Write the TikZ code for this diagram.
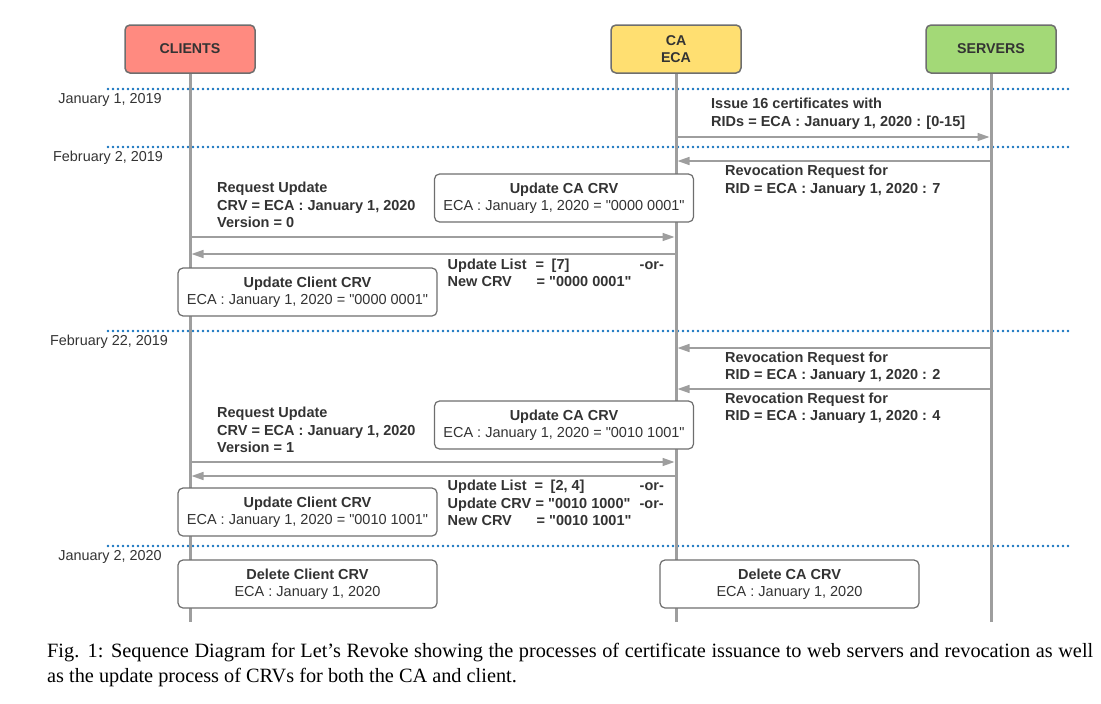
\documentclass[tikz,border=0pt]{standalone}
\usepackage{fontspec}
\setmainfont{Liberation Serif}
\newfontfamily\diagfont{Liberation Sans}
\usetikzlibrary{arrows.meta}

\definecolor{clientred}{RGB}{255,138,128}
\definecolor{cayellow}{RGB}{255,223,113}
\definecolor{servergreen}{RGB}{163,217,119}
\definecolor{txtgray}{RGB}{51,51,51}
\definecolor{boxgray}{RGB}{110,110,110}
\definecolor{linegray}{RGB}{158,158,158}
\definecolor{dotblue}{RGB}{20,115,190}
% put a piece of a line at a fixed offset
\newcommand{\colat}[2]{\makebox[0pt][l]{\hspace*{#1pt}#2}}

\begin{document}
\begin{tikzpicture}[
  x=1pt,y=-1pt,
  font=\diagfont\fontsize{14.5}{17.5}\selectfont,
  >={Triangle[length=12pt,width=8pt]},
  head/.style={draw=boxgray,rounded corners=5pt,line width=1.5pt,minimum width=130pt,minimum height=48pt,align=center,text=txtgray,font=\diagfont\bfseries\fontsize{14.2}{17}\selectfont},
  life/.style={draw=linegray,line width=3pt},
  era/.style={dotblue,line width=2.6pt,line cap=round,dash pattern=on 0pt off 5pt},
  date/.style={text=txtgray,font=\diagfont\fontsize{14.4}{17}\selectfont},
  msg/.style={->,linegray,line width=1.5pt,shorten <=1.5pt,shorten >=1.5pt},
  lbl/.style={anchor=west,align=left,inner sep=0pt,text=txtgray,font=\diagfont\bfseries\fontsize{14.5}{17.5}\selectfont},
  crv/.style={draw=boxgray,fill=white,rounded corners=5pt,line width=1.2pt,minimum width=259pt,minimum height=48pt,align=center,text=txtgray}
]
\useasboundingbox (0,0) rectangle (1101,704);

% ---- participants ----
\node[head,fill=clientred] (clients) at (190,49) {CLIENTS};
\node[head,fill=cayellow] (ca) at (676,49) {CA\\ECA};
\node[head,fill=servergreen] (servers) at (991,49) {SERVERS};

% ---- time marks ----
\draw[era] (108,89) -- (1068,89);
\draw[era] (108,147) -- (1068,147);
\draw[era] (108,331) -- (1068,331);
\draw[era] (108,546) -- (1068,546);
\node[date] (d1) at (110,100) {January 1, 2019};
\node[date] (d2) at (108,158) {February 2, 2019};
\node[date] (d3) at (109,342) {February 22, 2019};
\node[date] (d4) at (110,557) {January 2, 2020};

% ---- lifelines ----
\draw[life] (clients.south) -- (clients |- 0,622);
\draw[life] (ca.south) -- (ca |- 0,622);
\draw[life] (servers.south) -- (servers |- 0,622);

% ---- issuance and first revocation ----
\draw[msg] (ca |- 0,137) -- (servers |- 0,137);
\node[lbl] (issue) at (711,113.5) {Issue 16 certificates with\\RIDs = ECA : January 1, 2020 : [0-15]};
\draw[msg] (servers |- 0,161) -- (ca |- 0,161);
\node[lbl] (rev7) at (725,180.5) {Revocation Request for\\RID = ECA : January 1, 2020 : 7};

\node[crv] (caA) at (564,198) {\textbf{Update CA CRV}\\ECA : January 1, 2020 = "0000 0001"};
\node[lbl] (reqA) at (217,205) {Request Update\\CRV = ECA : January 1, 2020\\Version = 0};
\draw[msg] (clients |- 0,237) -- (ca |- 0,237);
\draw[msg] (ca |- 0,254) -- (clients |- 0,254);
\node[lbl] (respA) at (447,273) {\colat{0}{Update List}\colat{88}{=}\colat{104}{[7]}\colat{192}{-or-}\\
  \colat{0}{New CRV}\colat{89}{= "0000 0001"}};
\node[crv] (cliA) at (307.5,292) {\textbf{Update Client CRV}\\ECA : January 1, 2020 = "0000 0001"};

% ---- second round ----
\draw[msg] (servers |- 0,348) -- (ca |- 0,348);
\node[lbl] (rev2) at (725,367) {Revocation Request for\\RID = ECA : January 1, 2020 : 2};
\draw[msg] (servers |- 0,389) -- (ca |- 0,389);
\node[lbl] (rev4) at (725,408) {Revocation Request for\\RID = ECA : January 1, 2020 : 4};

\node[crv] (caB) at (564,425) {\textbf{Update CA CRV}\\ECA : January 1, 2020 = "0010 1001"};
\node[lbl] (reqB) at (217,430) {Request Update\\CRV = ECA : January 1, 2020\\Version = 1};
\draw[msg] (clients |- 0,462) -- (ca |- 0,462);
\draw[msg] (ca |- 0,476) -- (clients |- 0,476);
\node[lbl] (respB) at (447,503) {\colat{0}{Update List}\colat{87}{=}\colat{103}{[2, 4]}\colat{192}{-or-}\\
  \colat{0}{Update CRV}\colat{88}{= "0010 1000"}\colat{192}{-or-}\\
  \colat{0}{New CRV}\colat{89}{= "0010 1001"}};
\node[crv] (cliB) at (307.5,512) {\textbf{Update Client CRV}\\ECA : January 1, 2020 = "0010 1001"};

% ---- expiry ----
\node[crv] (cliDel) at (307.5,584) {\textbf{Delete Client CRV}\\ECA : January 1, 2020};
\node[crv] (caDel) at (789.5,584) {\textbf{Delete CA CRV}\\ECA : January 1, 2020};

% caption
\node[anchor=north west,inner sep=0pt,text width=1046pt,align=justify,font=\rmfamily\fontsize{20.3}{25}\selectfont] (cap) at (47,643)
  {Fig. 1: Sequence Diagram for Let's Revoke showing the processes of certificate issuance to web servers and revocation as well\linebreak
   as the update process of CRVs for both the CA and client.};
\end{tikzpicture}
\end{document}
